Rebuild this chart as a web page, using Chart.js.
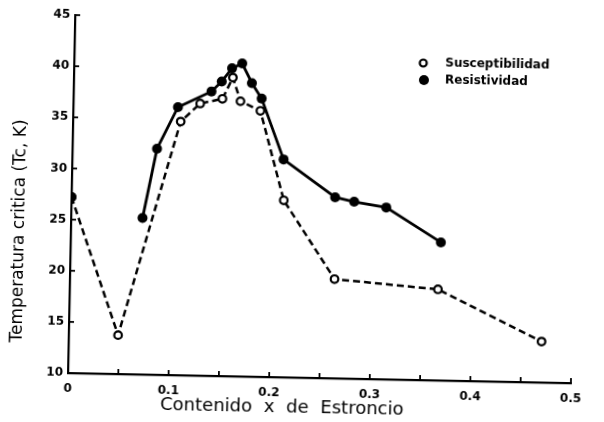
<!DOCTYPE html>
<html>
<head>
<meta charset="utf-8">
<script src="https://cdn.jsdelivr.net/npm/chart.js@4/dist/chart.umd.min.js"></script>
<style>
  html, body { margin: 0; padding: 0; background: #fff; }
  #wrap { position: relative; width: 604px; height: 422px; overflow: hidden; }
  #c { position: absolute; left: 0; top: 0; transform: rotate(1.15deg); transform-origin: 68px 373px; }
</style>
</head>
<body>
<div id="wrap"><canvas id="c" width="604" height="422"></canvas></div>
<script>
// ---- data ----
const seriesNames = ['Resistividad', 'Susceptibilidad'];

const resistX = [0, 0.071, 0.084, 0.104, 0.137, 0.147, 0.157, 0.167, 0.177, 0.187, 0.210, 0.262, 0.281, 0.313, 0.368];
const resistY = [27.2, 25.3, 32.1, 36.2, 37.8, 38.8, 40.1, 40.6, 38.7, 37.2, 31.3, 27.7, 27.3, 26.8, 23.5];

const suscX = [0, 0.049, 0.107, 0.126, 0.148, 0.158, 0.166, 0.186, 0.211, 0.263, 0.366, 0.470];
const suscY = [27.2, 13.8, 34.8, 36.6, 37.1, 39.2, 36.9, 36.0, 27.3, 19.7, 18.9, 14.0];

const xTickLabels = ['0', '0.1', '0.2', '0.3', '0.4', '0.5'];
const yTickLabels = ['10', '15', '20', '25', '30', '35', '40', '45'];

const xTitle = 'Contenido x de Estroncio';
const yTitle = 'Temperatura critica (Tc, K)';

// ---- build ----
const toPts = (xs, ys) => xs.map((x, i) => ({ x: x, y: ys[i] }));

const tickFont = { family: 'DejaVu Sans', size: 12, weight: 'bold' };

const inwardTicks = {
  id: 'inwardTicks',
  afterDraw(chart) {
    const { ctx, scales: { x, y } } = chart;
    ctx.save();
    ctx.strokeStyle = '#000';
    ctx.lineWidth = 1.8;
    x.ticks.forEach(t => {
      const px = x.getPixelForValue(t.value);
      ctx.beginPath(); ctx.moveTo(px, x.top); ctx.lineTo(px, x.top - 5); ctx.stroke();
    });
    y.ticks.forEach(t => {
      const py = y.getPixelForValue(t.value);
      ctx.beginPath(); ctx.moveTo(y.right, py); ctx.lineTo(y.right + 5, py); ctx.stroke();
    });
    ctx.restore();
  }
};

const titlesAndLegend = {
  id: 'titlesAndLegend',
  afterDraw(chart) {
    const { ctx, chartArea } = chart;
    ctx.save();
    ctx.fillStyle = '#000';
    // x title
    ctx.font = '18px "DejaVu Sans"';
    ctx.wordSpacing = '6px';
    ctx.textAlign = 'center';
    ctx.textBaseline = 'middle';
    ctx.fillText(xTitle, (chartArea.left + chartArea.right) / 2 - 37, chartArea.bottom + 30);
    ctx.wordSpacing = '0px';
    // y title
    ctx.save();
    ctx.translate(17, (chartArea.top + chartArea.bottom) / 2 + 38);
    ctx.rotate(-Math.PI / 2);
    ctx.font = '17px "DejaVu Sans"';
    ctx.fillText(yTitle, 0, 0);
    ctx.restore();
    // legend
    const lx = chartArea.left + 349, ly = chartArea.top + 41, gap = 17;
    ctx.font = 'bold 12px "DejaVu Sans"';
    ctx.textAlign = 'left';
    ctx.textBaseline = 'middle';
    // Susceptibilidad: open circle
    ctx.beginPath(); ctx.arc(lx, ly, 3.5, 0, Math.PI * 2);
    ctx.fillStyle = '#fff'; ctx.fill();
    ctx.lineWidth = 2.2; ctx.strokeStyle = '#000'; ctx.stroke();
    ctx.fillStyle = '#000';
    ctx.fillText(seriesNames[1], lx + 22, ly);
    // Resistividad: filled circle
    ctx.beginPath(); ctx.arc(lx + 1, ly + gap, 5, 0, Math.PI * 2);
    ctx.fill();
    ctx.fillText(seriesNames[0], lx + 22, ly + gap);
    ctx.restore();
  }
};

new Chart(document.getElementById('c'), {
  type: 'scatter',
  data: {
    datasets: [
      {
        label: seriesNames[0],
        data: toPts(resistX, resistY),
        showLine: true,
        borderColor: '#000',
        borderWidth: 2.8,
        pointRadius: 5,
        pointBackgroundColor: '#000',
        pointBorderColor: '#000',
        pointBorderWidth: 0,
        segment: {
          borderColor: c => c.p0DataIndex === 0 ? 'rgba(0,0,0,0)' : undefined
        }
      },
      {
        label: seriesNames[1],
        data: toPts(suscX, suscY),
        showLine: true,
        borderColor: '#000',
        borderWidth: 2.5,
        borderDash: [7, 4],
        pointRadius: 3.8,
        pointBackgroundColor: '#fff',
        pointBorderColor: '#000',
        pointBorderWidth: 2.2
      }
    ]
  },
  options: {
    responsive: false,
    animation: false,
    events: [],
    layout: { padding: { top: 15, right: 33, left: 0, bottom: 0 } },
    plugins: { legend: { display: false }, tooltip: { enabled: false } },
    scales: {
      x: {
        type: 'linear',
        min: 0, max: 0.5,
        afterFit: s => { s.height = 49; },
        border: { display: true, color: '#000', width: 2.2 },
        grid: { display: true, drawOnChartArea: false, drawTicks: false },
        ticks: {
          stepSize: 0.05,
          padding: 9,
          color: '#000',
          font: tickFont,
          maxRotation: 0,
          autoSkip: false,
          callback: (v, i) => (i % 2 === 0 ? xTickLabels[i / 2] : '')
        }
      },
      y: {
        type: 'linear',
        min: 10, max: 45,
        afterFit: s => { s.width = 68; },
        border: { display: true, color: '#000', width: 2.2 },
        grid: { display: true, drawOnChartArea: false, drawTicks: false },
        ticks: {
          stepSize: 5,
          padding: 5,
          color: '#000',
          font: tickFont,
          autoSkip: false,
          callback: (v, i) => yTickLabels[i]
        }
      }
    }
  },
  plugins: [inwardTicks, titlesAndLegend]
});
</script>
</body>
</html>
